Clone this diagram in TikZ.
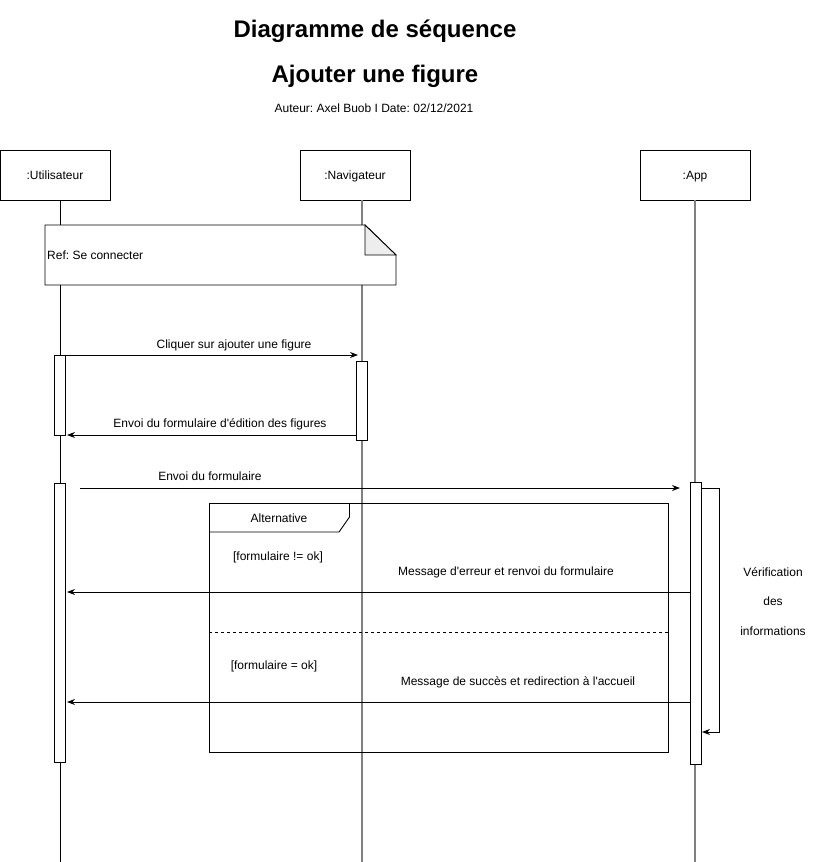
\documentclass[tikz,border=0pt]{standalone}
\usepackage{fontspec}
\setmainfont{Liberation Sans}[Ligatures=TeXOff]
\usetikzlibrary{arrows.meta}
\begin{document}
\frenchspacing
\begin{tikzpicture}[x=1pt,y=-1pt,
  every node/.style={font=\fontsize{12}{14}\selectfont\frenchspacing, inner sep=0pt, text height=9.6pt, text depth=0pt},
  actor/.style={draw, line width=0.9pt, fill=white, minimum width=110pt, minimum height=50pt},
  lifeline/.style={line width=1.2pt, draw=gray},
  actbox/.style={draw, line width=0.9pt, fill=white, text height=, text depth=},
  msg/.style={line width=0.9pt, -{Stealth[length=8pt,width=6pt]}},
  frame/.style={draw, line width=0.9pt},
  ttl/.style={font=\bfseries\fontsize{24}{28}\selectfont, text height=, text depth=}]
\useasboundingbox (0,0) rectangle (819,862);

% titles
\node[ttl] (t1) at (375,31) {Diagramme de séquence};
\node[ttl] (t2) at (375,76) {Ajouter une figure};
\node (t3) at (374,108) {Auteur: Axel Buob I Date: 02/12/2021};

% lifelines
\coordinate (uend) at (60,862);
\coordinate (nend) at (362,862);
\coordinate (aend) at (695,862);
\node[actor] (u) at (55,175) {:Utilisateur};
\node[actor] (n) at (355,175) {:Navigateur};
\node[actor] (a) at (695,175) {:App};
\draw[line width=1pt, draw=black] (u.south -| uend) -- (uend);
\draw[lifeline] (n.south -| nend) -- (nend);
\draw[lifeline] (a.south) -- (aend);

% ref note
\path[draw, line width=0.9pt, fill=white] (45,225) -- (365,225) -- (396,255) -- (396,285) -- (45,285) -- cycle;
\path[draw, line width=0.9pt, fill=black!7] (365,225) -- (365,255) -- (396,255) -- cycle;
\node[anchor=west] (ref) at (47,255) {Ref: Se connecter};

% activation boxes
\node[actbox, minimum width=11pt, minimum height=80pt] (ua1) at (59.5,395) {};
\node[actbox, minimum width=11pt, minimum height=79pt] (na1) at (361.5,400.5) {};
\node[actbox, minimum width=11pt, minimum height=279pt] (ua2) at (59.5,622.5) {};
\node[actbox, minimum width=11pt, minimum height=282pt] (aa1) at (695.5,623) {};

% alternative frame
\draw[frame] (209,503) rectangle (668,752);
\draw[frame] (209,532) -- (339,532) -- (349.5,517) -- (349.5,503);
\node (alt) at (279,518) {Alternative};
\draw[line width=0.9pt, dashed] (209,632) -- (668,632);
\node (g1) at (278,556) {[formulaire != ok]};
\node (g2) at (274,665) {[formulaire = ok]};

% messages
\coordinate (m1s) at (65,355);
\coordinate (m1e) at (358,355);
\draw[msg] (m1s) -- (m1e);
\node (l1) at (234,344) {Cliquer sur ajouter une figure};

\coordinate (m2s) at (356,435);
\coordinate (m2e) at (67,435);
\draw[msg] (m2s) -- (m2e);
\node (l2) at (220,423) {Envoi du formulaire d'édition des figures};

\coordinate (m3s) at (80,488);
\coordinate (m3e) at (680,488);
\draw[msg] (m3s) -- (m3e);
\node (l3) at (210,476) {Envoi du formulaire};

\coordinate (m4s) at (690,592);
\coordinate (m4e) at (67,592);
\draw[msg] (m4s) -- (m4e);
\node (l4) at (506,571) {Message d'erreur et renvoi du formulaire};

\coordinate (m5s) at (690,702);
\coordinate (m5e) at (67,702);
\draw[msg] (m5s) -- (m5e);
\node (l5) at (518,681) {Message de succès et redirection à l'accueil};

% self message
\coordinate (s1) at (701,488);
\coordinate (s2) at (702,732);
\draw[msg] (s1) -- (719,488) -- (719,732) -- (s2);
\node (v1) at (773,572) {Vérification};
\node (v2) at (773,601) {des};
\node (v3) at (773,631) {informations};
\end{tikzpicture}
\end{document}
